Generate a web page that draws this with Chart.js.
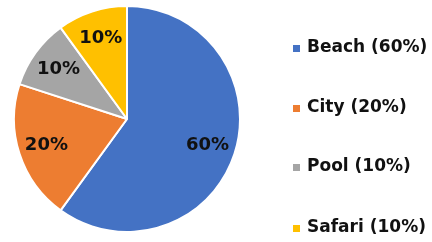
<!DOCTYPE html>
<html>
<head>
<meta charset="utf-8">
<script src="https://cdn.jsdelivr.net/npm/chart.js@4/dist/chart.umd.min.js"></script>
<style>
  html, body { margin: 0; padding: 0; background: #fff; }
  #box { width: 432px; height: 242px; position: relative; }
</style>
</head>
<body>
<div id="box"><canvas id="chart1"></canvas></div>
<script>
const categorias = ['Beach', 'City', 'Pool', 'Safari'];
const valores = [60, 20, 10, 10];
const cores = ['#4472C4', '#ED7D31', '#A5A5A5', '#FFC000'];
const legenda_y = [48, 108, 167, 228];

// rotulos dentro das fatias
const rotulos = {
    id: 'rotulos',
    afterDatasetsDraw(chart) {
        const ctx = chart.ctx;
        const arcs = chart.getDatasetMeta(0).data;
        const total = valores.reduce((a, b) => a + b, 0);
        ctx.save();
        ctx.font = 'bold 18px "DejaVu Sans"';
        ctx.fillStyle = '#111111';
        ctx.textAlign = 'center';
        ctx.textBaseline = 'middle';
        arcs.forEach((arc, i) => {
            const p = arc.getProps(['x', 'y', 'startAngle', 'endAngle', 'outerRadius'], true);
            const meio = (p.startAngle + p.endAngle) / 2;
            const r = p.outerRadius * 0.75;
            const pct = Math.round(valores[i] / total * 100);
            ctx.fillText(pct + '%', p.x + Math.cos(meio) * r, p.y + Math.sin(meio) * r);
        });
        ctx.restore();
    }
};

// legenda a direita
const legenda = {
    id: 'legenda',
    afterDraw(chart) {
        const ctx = chart.ctx;
        const total = valores.reduce((a, b) => a + b, 0);
        ctx.save();
        ctx.font = 'bold 17px "DejaVu Sans"';
        ctx.textBaseline = 'middle';
        ctx.textAlign = 'left';
        categorias.forEach((c, i) => {
            const y = legenda_y[i];
            ctx.fillStyle = cores[i];
            ctx.fillRect(293, y - 3, 7, 7);
            ctx.fillStyle = '#111111';
            ctx.fillText(`${c} (${Math.round(valores[i] / total * 100)}%)`, 307, y);
        });
        ctx.restore();
    }
};

new Chart(document.getElementById('chart1'), {
    type: 'pie',
    data: {
        labels: categorias,
        datasets: [{
            data: valores,
            backgroundColor: cores,
            borderColor: '#ffffff',
            borderWidth: 2
        }]
    },
    options: {
        responsive: true,
        maintainAspectRatio: false,
        animation: false,
        layout: {
            padding: { left: 13, right: 191, top: 5, bottom: 9 }
        },
        plugins: {
            legend: { display: false },
            tooltip: { enabled: false }
        }
    },
    plugins: [rotulos, legenda]
});
</script>
</body>
</html>
